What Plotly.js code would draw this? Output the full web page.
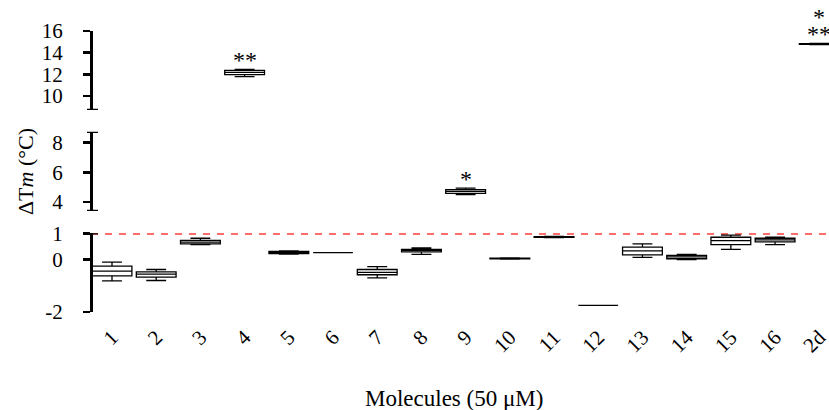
<!DOCTYPE html>
<html>
<head>
<meta charset="utf-8">
<script src="https://cdn.plot.ly/plotly-3.0.1.min.js"></script>
<style>html,body{margin:0;padding:0;background:#fff;}#chart{width:829px;height:410px;}</style>
</head>
<body>
<div id="chart"></div>
<script>
// ---- data (ΔTm, °C) ----
const categories = ['1','2','3','4','5','6','7','8','9','10','11','12','13','14','15','16','2d'];
const lowerFence = [-0.81,-0.80,0.57,11.78,0.21,0.26,-0.70,0.20,4.49,0.02,0.84,-1.75,0.08,0.00,0.39,0.57,14.74];
const q1Values   = [-0.62,-0.67,0.60,11.97,0.23,0.26,-0.58,0.29,4.58,0.03,0.85,-1.75,0.18,0.03,0.57,0.67,14.77];
const medians    = [-0.44,-0.56,0.66,12.18,0.27,0.26,-0.49,0.35,4.72,0.04,0.86,-1.75,0.33,0.10,0.72,0.75,14.80];
const q3Values   = [-0.25,-0.47,0.73,12.37,0.31,0.26,-0.38,0.39,4.83,0.05,0.87,-1.75,0.47,0.16,0.85,0.81,14.84];
const upperFence = [-0.10,-0.38,0.81,12.45,0.33,0.26,-0.27,0.44,4.94,0.06,0.88,-1.75,0.60,0.20,0.93,0.85,14.86];
const stars      = ['','','','**','','','','','*','','','','','','','','**'];
const starsAbove = ['','','','','','','','','','','','','','','','','*'];
const threshold = 1;

// axis segments (broken y axis)
const segments = [
  {axis:'y',  range:[-2, 1],      ticks:[-2,0,1],      domain:[0, 0.2801]},
  {axis:'y2', range:[3.39, 8.74], ticks:[4,6,8],       domain:[0.3594, 0.6416]},
  {axis:'y3', range:[8.7, 16],    ticks:[10,12,14,16], domain:[0.7189, 1]}
];
function segIndex(v){ return v > 8.7 ? 2 : (v > 3.39 ? 1 : 0); }

const FONT = 'Liberation Serif, Times New Roman, serif';

const traces = segments.map((s, si) => {
  const idx = categories.map((c,i)=>i).filter(i => segIndex(medians[i]) === si);
  return {
    type:'box',
    xaxis:'x', yaxis:s.axis,
    x: idx.map(i=>categories[i]),
    q1: idx.map(i=>q1Values[i]),
    median: idx.map(i=>medians[i]),
    q3: idx.map(i=>q3Values[i]),
    lowerfence: idx.map(i=>lowerFence[i]),
    upperfence: idx.map(i=>upperFence[i]),
    width: 0.9,
    whiskerwidth: 0.5,
    fillcolor:'#ffffff',
    line:{color:'#000', width:1.3},
    boxpoints:false,
    hoverinfo:'skip',
    showlegend:false
  };
});

const AX_W = 2.5;
const layout = {
  width:829, height:410,
  margin:{l:91, r:0, t:31, b:98},
  paper_bgcolor:'#fff', plot_bgcolor:'rgba(0,0,0,0)',
  showlegend:false,
  font:{family:FONT, size:21, color:'#000'},
  xaxis:{
    type:'category', categoryorder:'array', categoryarray:categories,
    range:[-0.475, 16.22], anchor:'free', position:0,
    showline:false, ticks:'', showgrid:false, zeroline:false,
    tickangle:-45, tickfont:{family:FONT, size:21, color:'#000'},
    ticklabelstandoff:8
  },
  xaxis2:{
    overlaying:'x', anchor:'free', position:0.2801*2/3,
    range:[-0.475, 16.22], tickmode:'array', tickvals:categories.map((c,i)=>i),
    showticklabels:false, showline:true, linewidth:AX_W, linecolor:'#000',
    ticks:'outside', ticklen:4, tickwidth:AX_W, tickcolor:'#000',
    showgrid:false, zeroline:false
  },
  shapes:[],
  annotations:[]
};

segments.forEach((s) => {
  const key = 'yaxis' + (s.axis === 'y' ? '' : s.axis.slice(1));
  layout[key] = {
    domain:s.domain, range:s.range, anchor:'free', position:0,
    tickmode:'array', tickvals:s.ticks, ticktext:s.ticks.map(String),
    showline:true, linewidth:AX_W, linecolor:'#000',
    ticks:'outside', ticklen:7, tickwidth:AX_W, tickcolor:'#000',
    showgrid:false, zeroline:false,
    tickfont:{family:FONT, size:21, color:'#000'},
    ticklabelstandoff:16
  };
});

// break caps at the cut ends of the axis segments
[['y',1],['y2',segments[1].range[0]],['y2',segments[1].range[1]],['y3',segments[2].range[0]]].forEach(([ax,v])=>{
  layout.shapes.push({type:'line', xref:'paper', xsizemode:'pixel', xanchor:0, x0:-4, x1:7,
    yref:ax, y0:v, y1:v, line:{color:'#000', width:AX_W}});
});

// threshold line
layout.shapes.push({type:'line', xref:'paper', x0:0, x1:1, yref:'y', y0:threshold, y1:threshold,
  line:{color:'#ff3c3c', width:3, dash:'7px,7px'}, layer:'below'});

// significance stars
categories.forEach((c,i)=>{
  const ax = segments[segIndex(medians[i])].axis;
  if (stars[i]) layout.annotations.push({x:i, xref:'x', y:upperFence[i], yref:ax, text:stars[i],
    showarrow:false, yanchor:'bottom', yshift:-6, font:{family:FONT, size:24, color:'#000'}});
  if (starsAbove[i]) layout.annotations.push({x:i, xref:'x', y:upperFence[i], yref:ax, text:starsAbove[i],
    showarrow:false, yanchor:'bottom', yshift:11, font:{family:FONT, size:24, color:'#000'}});
});

// axis titles
layout.annotations.push({xref:'paper', yref:'paper', x:-0.0894, y:0.498, text:'ΔT<i>m</i> (°C)',
  textangle:-90, showarrow:false, xanchor:'center', yanchor:'middle', font:{family:FONT, size:22, color:'#000'}});
layout.annotations.push({xref:'paper', yref:'paper', x:0.4925, y:-0.3096, text:'Molecules (50 μM)',
  showarrow:false, xanchor:'center', yanchor:'middle', font:{family:FONT, size:23, color:'#000'}});

Plotly.newPlot('chart', traces, layout, {staticPlot:true, displayModeBar:false});
</script>
</body>
</html>
